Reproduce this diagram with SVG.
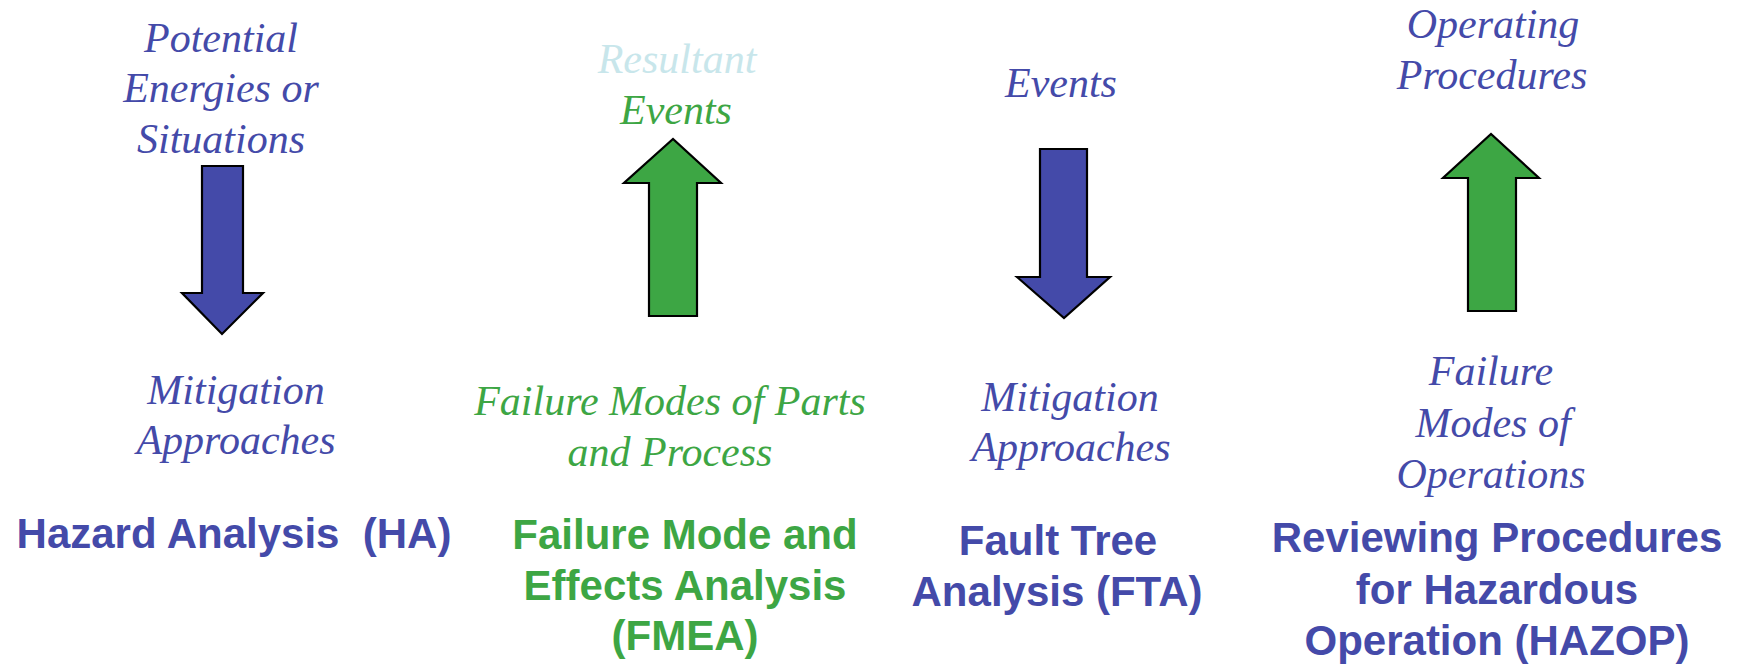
<svg xmlns="http://www.w3.org/2000/svg" width="1741" height="665" viewBox="0 0 1741 665">
  <style>
    .it { font-family: "Liberation Serif", "Times New Roman", serif; font-style: italic; font-size: 42px; text-anchor: middle; }
    .bd { font-family: "Liberation Sans", Arial, sans-serif; font-weight: bold; font-size: 42px; text-anchor: middle; }
    .blue { fill: #444AA9; }
    .green { fill: #3DA644; }
    .pale { fill: #C8E6EB; }
    .arrow { stroke: #000; stroke-width: 2.2; stroke-linejoin: miter; }
    .arrow.blue { fill: #444AA9; }
    .arrow.green { fill: #3DA644; }
  </style>
  <rect width="1741" height="665" fill="#fff"/>

  <!-- arrows: down for top-down methods, up for bottom-up methods -->
  <g id="connectors">
    <polygon class="arrow blue" points="202,166 243,166 243,293 263,293 222,334 182,293 202,293"/>
    <polygon class="arrow green" points="649,316 697,316 697,183 721,183 673,139 624,183 649,183"/>
    <polygon class="arrow blue" points="1040,149 1087,149 1087,277 1110,277 1064,318 1017,277 1040,277"/>
    <polygon class="arrow green" points="1468,311 1516,311 1516,178 1539,178 1491,134 1443,178 1468,178"/>
  </g>

  <!-- Hazard Analysis -->
  <g id="ha">
    <text class="it blue" x="221" y="52">Potential</text>
    <text class="it blue" x="221" y="102">Energies or</text>
    <text class="it blue" x="221" y="153">Situations</text>
    <text class="it blue" x="236" y="404">Mitigation</text>
    <text class="it blue" x="236" y="454">Approaches</text>
    <text class="bd blue" x="234" y="548">Hazard Analysis&#160;&#160;(HA)</text>
  </g>

  <!-- Failure Mode and Effects Analysis -->
  <g id="fmea">
    <text class="it pale" x="677" y="73">Resultant</text>
    <text class="it green" x="676" y="124">Events</text>
    <text class="it green" x="670" y="415">Failure Modes of Parts</text>
    <text class="it green" x="670" y="466">and Process</text>
    <text class="bd green" x="685" y="549">Failure Mode and</text>
    <text class="bd green" x="685" y="600">Effects Analysis</text>
    <text class="bd green" x="685" y="650">(FMEA)</text>
  </g>

  <!-- Fault Tree Analysis -->
  <g id="fta">
    <text class="it blue" x="1061" y="97">Events</text>
    <text class="it blue" x="1070" y="411">Mitigation</text>
    <text class="it blue" x="1071" y="461">Approaches</text>
    <text class="bd blue" x="1058" y="555">Fault Tree</text>
    <text class="bd blue" x="1057" y="606">Analysis (FTA)</text>
  </g>

  <!-- Reviewing Procedures for Hazardous Operation -->
  <g id="hazop">
    <text class="it blue" x="1493" y="38">Operating</text>
    <text class="it blue" x="1492" y="89">Procedures</text>
    <text class="it blue" x="1491" y="385">Failure</text>
    <text class="it blue" x="1493" y="437">Modes of</text>
    <text class="it blue" x="1491" y="488">Operations</text>
    <text class="bd blue" x="1497" y="552">Reviewing Procedures</text>
    <text class="bd blue" x="1497" y="604">for Hazardous</text>
    <text class="bd blue" x="1497" y="655">Operation (HAZOP)</text>
  </g>
</svg>
